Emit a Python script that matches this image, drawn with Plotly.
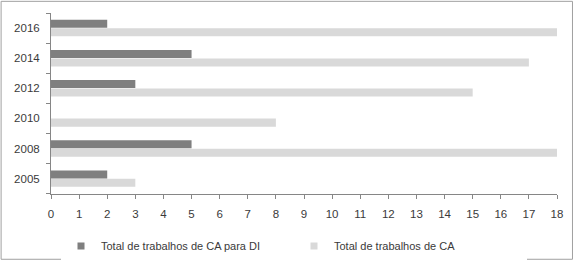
import plotly.graph_objects as go

years = ["2005", "2008", "2010", "2012", "2014", "2016"]
ca_di = [2, 5, 0, 3, 5, 2]
ca_total = [3, 18, 8, 15, 17, 18]
x_ticks = list(range(0, 19))

name_di = "Total de trabalhos de CA para DI"
name_ca = "Total de trabalhos de CA"
col_di = "#7f7f7f"
col_ca = "#d9d9d9"

W, H = 575, 268
ml, mr, mt, mb = 51, 17, 13, 69
pw = W - ml - mr
ph = H - mt - mb

fig = go.Figure()
fig.add_trace(go.Bar(y=years, x=ca_total, name=name_ca, orientation="h",
                     marker=dict(color=col_ca, line=dict(width=0)),
                     showlegend=False))
fig.add_trace(go.Bar(y=years, x=ca_di, name=name_di, orientation="h",
                     marker=dict(color=col_di, line=dict(width=0)),
                     showlegend=False))
# legend entries (small square keys like the original)
for nm, col in [(name_di, col_di), (name_ca, col_ca)]:
    fig.add_trace(go.Scatter(x=[None], y=[None], mode="markers", name=nm,
                             marker=dict(symbol="square", size=7, color=col),
                             showlegend=True))

font = dict(family="Liberation Sans", size=11, color="#3a3a3a")

fig.update_layout(
    width=W, height=H,
    margin=dict(l=ml, r=mr, t=mt, b=mb),
    paper_bgcolor="white", plot_bgcolor="white",
    barmode="group", bargap=0.44, bargroupgap=0.05,
    font=font,
    showlegend=True,
    legend=dict(orientation="h", traceorder="normal",
                xref="container", yref="container",
                x=61 / W, xanchor="left",
                y=1 - 246 / H, yanchor="middle",
                entrywidth=188, entrywidthmode="pixels",
                font=font, itemclick=False, itemdoubleclick=False),
    xaxis=dict(range=[0, 18], tickmode="array", tickvals=x_ticks,
               ticktext=[str(v) for v in x_ticks],
               showgrid=False, zeroline=False, showline=True,
               linecolor="#868686", linewidth=1,
               ticks="outside", ticklen=4, tickcolor="#868686",
               ticklabelstandoff=5,
               tickfont=dict(family="Liberation Sans", size=11.5, color="#3a3a3a"),
               fixedrange=True),
    yaxis=dict(type="category", categoryorder="array", categoryarray=years,
               showgrid=False, zeroline=False, showline=True,
               linecolor="#868686", linewidth=1,
               ticks="outside", ticklen=4, tickcolor="#868686",
               tickson="boundaries", ticklabelstandoff=8,
               tickfont=dict(family="Liberation Sans", size=11.5, color="#3a3a3a"),
               fixedrange=True),
)

fig.add_shape(type="rect", xref="paper", yref="paper",
              x0=(1 - ml) / pw, x1=(573.5 - ml) / pw,
              y0=(ph + mt - 266.5) / ph, y1=(ph + mt - 1) / ph,
              line=dict(color="#a0a0a0", width=1), fillcolor="rgba(0,0,0,0)",
              layer="below")

fig.write_html("out.html", config={"displayModeBar": False},
               post_script="document.body.style.margin='0';")
